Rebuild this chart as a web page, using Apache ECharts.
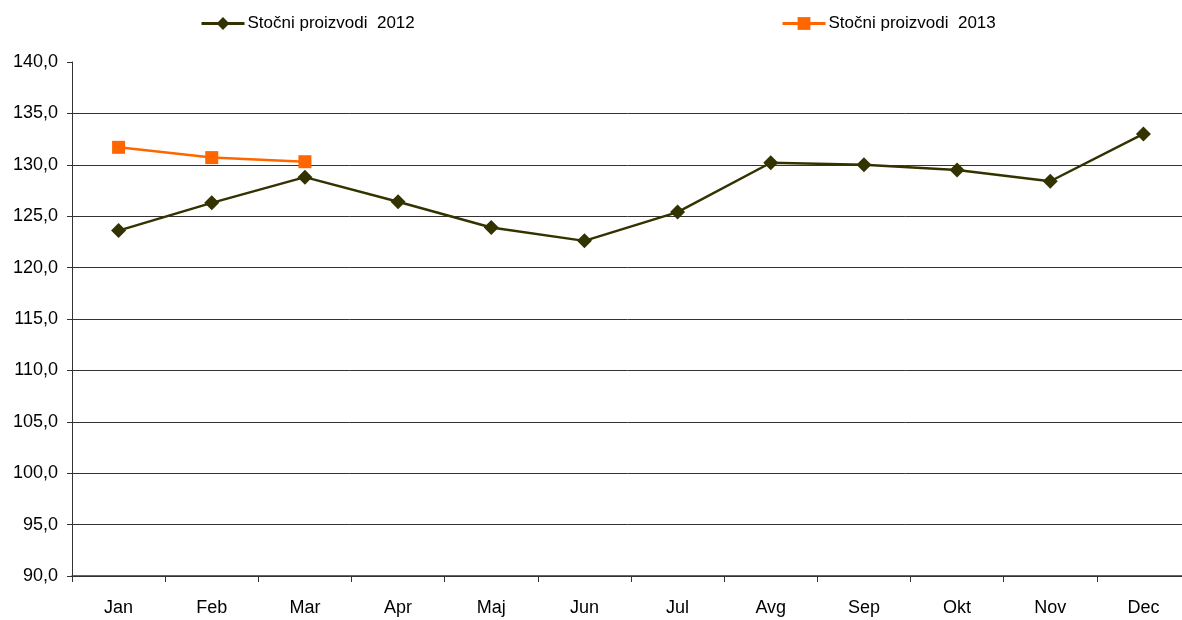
<!DOCTYPE html>
<html>
<head>
<meta charset="utf-8">
<script src="https://cdn.jsdelivr.net/npm/echarts@6/dist/echarts.min.js"></script>
<style>
html, body { margin: 0; padding: 0; background: #fff; }
#chart { width: 1182px; height: 620px; }
</style>
</head>
<body>
<div id="chart"></div>
<script>
const months = ['Jan', 'Feb', 'Mar', 'Apr', 'Maj', 'Jun', 'Jul', 'Avg', 'Sep', 'Okt', 'Nov', 'Dec']
const values2012 = [123.6, 126.3, 128.8, 126.4, 123.9, 122.6, 125.4, 130.2, 130.0, 129.5, 128.4, 133.0]
const values2013 = [131.7, 130.7, 130.3]
const name2012 = 'Stočni proizvodi  2012'
const name2013 = 'Stočni proizvodi  2013'

const font = '"Liberation Sans", Arial, sans-serif'
const myChart = echarts.init(document.getElementById('chart'))
myChart.setOption({
  animation: false,
  legend: [
    {
      data: [name2012],
      left: 200,
      top: 15,
      padding: 0,
      itemWidth: 43,
      itemHeight: 16,
      lineStyle: { width: 3 },
      textStyle: { fontFamily: font, fontSize: 17, color: '#000', padding: [0, 0, 0, -2] }
    },
    {
      data: [name2013],
      left: 781,
      top: 15,
      padding: 0,
      itemWidth: 43,
      itemHeight: 16,
      lineStyle: { width: 3 },
      textStyle: { fontFamily: font, fontSize: 17, color: '#000', padding: [0, 0, 0, -2] }
    }
  ],
  grid: {
    left: 72,
    top: 62,
    bottom: 44,
    width: 1118,
    outerBoundsMode: 'none'
  },
  xAxis: {
    type: 'category',
    data: months,
    boundaryGap: true,
    axisLine: { lineStyle: { color: '#333', width: 1.5 } },
    axisTick: { show: true, length: 6, lineStyle: { color: '#333' } },
    axisLabel: { fontFamily: font, fontSize: 18, color: '#000', margin: 23 }
  },
  yAxis: {
    type: 'value',
    min: 90,
    max: 140,
    interval: 5,
    axisLine: { show: true, lineStyle: { color: '#333' } },
    axisTick: { show: true, length: 5, lineStyle: { color: '#333' } },
    axisLabel: {
      fontFamily: font,
      fontSize: 18,
      color: '#000',
      margin: 14,
      formatter: v => v.toFixed(1).replace('.', ',')
    },
    splitLine: { show: true, showMaxLine: false, lineStyle: { color: '#333', width: 1 } }
  },
  series: [
    {
      name: name2012,
      type: 'line',
      data: values2012,
      symbol: 'diamond',
      symbolSize: 15,
      color: '#333300',
      lineStyle: { color: '#333300', width: 2.5 },
      itemStyle: { color: '#333300' }
    },
    {
      name: name2013,
      type: 'line',
      data: values2013,
      symbol: 'rect',
      symbolSize: 13,
      color: '#ff6600',
      lineStyle: { color: '#ff6600', width: 2.5 },
      itemStyle: { color: '#ff6600' }
    }
  ]
})
</script>
</body>
</html>
